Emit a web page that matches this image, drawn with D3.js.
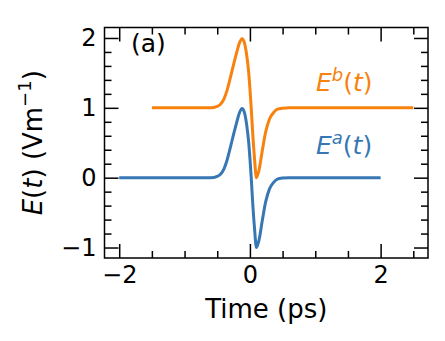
<!DOCTYPE html>
<html>
<head>
<meta charset="utf-8">
<script src="https://cdn.jsdelivr.net/npm/d3@7/dist/d3.min.js"></script>
<style>
  html, body { margin: 0; padding: 0; background: #fff; }
  svg { display: block; font-family: "DejaVu Sans", sans-serif; }
</style>
</head>
<body>
<svg id="chart" width="445" height="341"></svg>
<script>
// Pulse a: sampled field E^a(t)
const timeA = [-2.0, -1.0, -0.6, -0.5, -0.45, -0.4, -0.35, -0.3, -0.25, -0.2, -0.16, -0.12, -0.09, -0.05, -0.02, 0.0, 0.02, 0.04, 0.07, 0.10, 0.14, 0.19, 0.24, 0.30, 0.36, 0.42, 0.50, 0.60, 1.0, 2.0];
const fieldA = [0, 0, 0, 0.02, 0.05, 0.12, 0.25, 0.43, 0.62, 0.80, 0.93, 0.99, 0.95, 0.76, 0.52, 0.28, 0.0, -0.32, -0.72, -1.0, -0.89, -0.61, -0.35, -0.16, -0.07, -0.02, -0.005, 0, 0, 0];

// Pulse b: sampled field E^b(t), offset by +1
const timeB = [-1.5, -1.0, -0.6, -0.5, -0.45, -0.4, -0.35, -0.3, -0.25, -0.2, -0.16, -0.12, -0.09, -0.05, -0.02, 0.0, 0.02, 0.04, 0.07, 0.10, 0.14, 0.19, 0.24, 0.30, 0.36, 0.42, 0.50, 0.60, 1.0, 2.5];
const fieldB = [1, 1, 1, 1.02, 1.05, 1.12, 1.25, 1.43, 1.62, 1.80, 1.93, 1.99, 1.95, 1.76, 1.52, 1.28, 1.0, 0.68, 0.28, 0.0, 0.11, 0.39, 0.65, 0.84, 0.93, 0.98, 0.995, 1, 1, 1];

const xMajor = [-2, 0, 2];
const yMajor = [-1, 0, 1, 2];

const colorA = "#3677b4";
const colorB = "#f7820e";

const svg = d3.select("#chart");
const L = 104.5, R = 428, T = 27.5, B = 258;

const x = d3.scaleLinear().domain([-2.225, 2.725]).range([L, R]);
const y = d3.scaleLinear().domain([-1.15, 2.15]).range([B, T]);

const xMinor = d3.range(-2, 2.51, 0.5).filter(v => !xMajor.includes(v));
const yMinor = d3.range(-1, 2.01, 0.2).map(v => +v.toFixed(1)).filter(v => !yMajor.includes(v));

const fmt = d => d < 0 ? "\u2212" + Math.abs(d) : String(d);
const MAJ = 14, MIN = 7;

function styleAxis(g) {
  g.select(".domain").remove();
  g.selectAll(".tick line").attr("stroke", "#000").attr("stroke-width", 1.5);
  g.selectAll(".tick text").attr("fill", "#000").style("font-size", "24px").style("font-family", "DejaVu Sans");
}

// bottom
svg.append("g").attr("transform", `translate(0,${B})`)
  .call(d3.axisBottom(x).tickValues(xMajor).tickSize(-MAJ).tickPadding(8).tickFormat(fmt)).call(styleAxis);
svg.append("g").attr("transform", `translate(0,${B})`)
  .call(d3.axisBottom(x).tickValues(xMinor).tickSize(-MIN).tickFormat("")).call(styleAxis);
// top
svg.append("g").attr("transform", `translate(0,${T})`)
  .call(d3.axisTop(x).tickValues(xMajor).tickSize(-MAJ).tickFormat("")).call(styleAxis);
svg.append("g").attr("transform", `translate(0,${T})`)
  .call(d3.axisTop(x).tickValues(xMinor).tickSize(-MIN).tickFormat("")).call(styleAxis);
// left
svg.append("g").attr("transform", `translate(${L},0)`)
  .call(d3.axisLeft(y).tickValues(yMajor).tickSize(-MAJ).tickPadding(8).tickFormat(fmt)).call(styleAxis);
svg.append("g").attr("transform", `translate(${L},0)`)
  .call(d3.axisLeft(y).tickValues(yMinor).tickSize(-MIN).tickFormat("")).call(styleAxis);
// right
svg.append("g").attr("transform", `translate(${R},0)`)
  .call(d3.axisRight(y).tickValues(yMajor).tickSize(-MAJ).tickFormat("")).call(styleAxis);
svg.append("g").attr("transform", `translate(${R},0)`)
  .call(d3.axisRight(y).tickValues(yMinor).tickSize(-MIN).tickFormat("")).call(styleAxis);

// frame
svg.append("rect").attr("x", L).attr("y", T).attr("width", R - L).attr("height", B - T)
  .attr("fill", "none").attr("stroke", "#000").attr("stroke-width", 1.5);

const line = d3.line().x(d => x(d[0])).y(d => y(d[1])).curve(d3.curveMonotoneX);

svg.append("path").datum(d3.zip(timeA, fieldA)).attr("d", line)
  .attr("fill", "none").attr("stroke", colorA).attr("stroke-width", 3);
svg.append("path").datum(d3.zip(timeB, fieldB)).attr("d", line)
  .attr("fill", "none").attr("stroke", colorB).attr("stroke-width", 3);

// series labels
function seriesLabel(sup, color, px, py) {
  const t = svg.append("text").attr("x", px).attr("y", py).attr("fill", color).style("font-size", "25px");
  t.append("tspan").style("font-style", "italic").text("E");
  t.append("tspan").attr("dy", -10).style("font-size", "18px").style("font-style", "italic").text(sup);
  t.append("tspan").attr("dy", 10).text("(");
  t.append("tspan").style("font-style", "italic").text("t");
  t.append("tspan").text(")");
}
seriesLabel("b", colorB, 316, 90.5);
seriesLabel("a", colorA, 316, 154);

// panel tag
svg.append("text").attr("x", 131).attr("y", 51.5).style("font-size", "25px").text("(a)");

// x label
svg.append("text").attr("x", (L + R) / 2).attr("y", 318).attr("text-anchor", "middle")
  .style("font-size", "26px").text("Time (ps)");

// y label
const yl = svg.append("text").attr("transform", `translate(41.5,${(T + B) / 2}) rotate(-90)`)
  .attr("text-anchor", "middle").style("font-size", "26px");
yl.append("tspan").style("font-style", "italic").text("E");
yl.append("tspan").text("(");
yl.append("tspan").style("font-style", "italic").text("t");
yl.append("tspan").text(") (Vm");
yl.append("tspan").attr("dy", -11).style("font-size", "18px").text("\u22121");
yl.append("tspan").attr("dy", 11).text(")");
</script>
</body>
</html>
